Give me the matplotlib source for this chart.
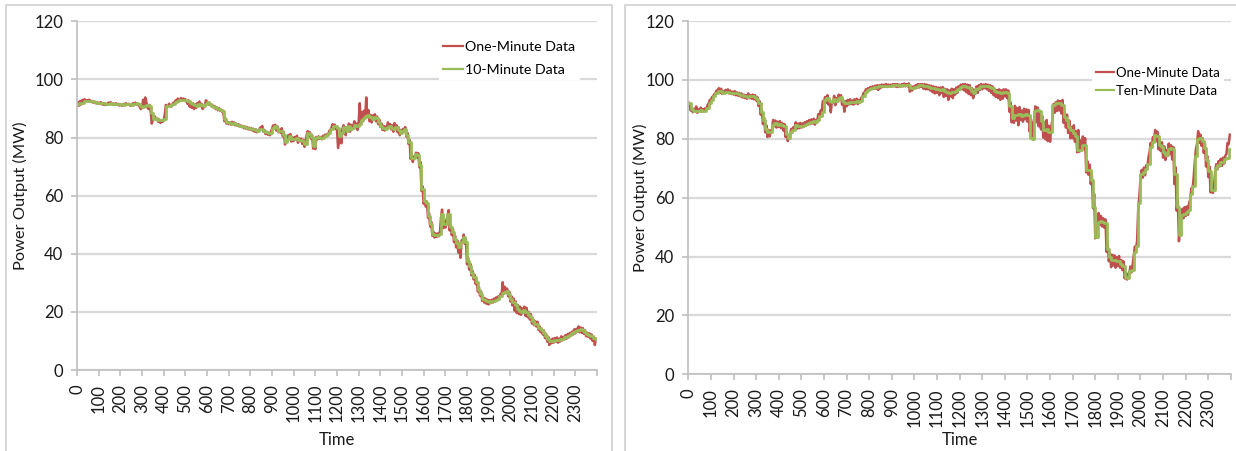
import numpy as np
import matplotlib.pyplot as plt
from matplotlib.patches import Rectangle

plt.rcParams['font.family'] = ['Lato', 'DejaVu Sans']

# ---- left panel: one-minute data (read every 5 min) and 10-minute data ----
left_1min = [
    90.8, 92.2, 91.0, 92.6, 91.4, 93.0, 92.2, 93.2, 92.6, 92.8, 92.4, 93.0, 92.8, 92.2, 92.6, 92.0, 92.4, 91.8, 92.2, 91.6,
    92.0, 91.6, 92.2, 91.4, 91.8, 91.2, 91.8, 91.2, 91.4, 92.0, 91.6, 92.2, 91.4, 91.8, 91.2, 91.6, 91.8, 91.2, 91.6, 91.0,
    91.4, 91.0, 91.0, 91.6, 91.2, 91.8, 91.6, 91.2, 91.6, 91.0, 91.0, 91.6, 91.8, 91.2, 92.0, 91.6, 91.2, 91.4, 90.4, 89.8,
    90.2, 93.0, 91.0, 93.8, 92.2, 90.4, 89.8, 91.2, 89.0, 84.8, 86.0, 87.4, 87.2, 86.2, 86.6, 85.4, 86.2, 85.0, 85.8, 85.4,
    86.0, 87.8, 91.2, 90.4, 90.8, 91.6, 91.2, 90.6, 91.4, 92.0, 91.8, 92.8, 92.4, 93.4, 93.0, 92.6, 93.6, 92.8, 93.4, 93.0,
    93.2, 92.4, 91.6, 92.8, 90.6, 92.2, 90.2, 91.8, 89.8, 91.4, 90.2, 91.8, 91.6, 92.4, 90.8, 91.6, 89.8, 90.6, 91.0, 92.8,
    92.4, 91.8, 91.2, 91.6, 90.8, 91.2, 90.4, 90.8, 89.8, 90.4, 89.4, 90.2, 89.2, 89.6, 88.8, 89.2, 85.6, 86.6, 84.8, 85.4,
    84.6, 85.2, 84.4, 85.4, 84.6, 85.2, 84.2, 84.8, 84.0, 84.6, 83.8, 84.2, 83.6, 84.0, 83.2, 83.8, 83.0, 83.6, 82.8, 83.4,
    82.6, 83.2, 82.4, 83.0, 82.0, 82.8, 81.8, 82.6, 82.4, 83.4, 83.2, 84.0, 82.0, 82.6, 81.2, 82.0, 81.0, 81.6, 80.8, 82.0,
    83.0, 84.2, 83.2, 84.4, 82.4, 83.8, 81.8, 82.6, 81.6, 83.2, 80.4, 81.8, 77.6, 79.2, 78.6, 80.8, 79.8, 81.2, 78.6, 80.0,
    78.8, 80.2, 79.2, 80.6, 78.2, 79.8, 78.8, 79.6, 77.8, 79.2, 76.8, 78.2, 80.8, 82.2, 80.6, 81.8, 79.6, 80.8, 76.2, 77.4,
    76.0, 80.2, 79.4, 80.4, 79.6, 80.2, 79.4, 80.6, 80.2, 81.0, 80.4, 81.2, 81.0, 82.4, 82.2, 83.6, 84.6, 83.2, 84.4, 83.0,
    82.6, 76.4, 79.2, 81.8, 78.0, 83.0, 84.2, 82.6, 80.8, 83.4, 83.0, 84.8, 82.0, 84.4, 82.8, 83.8, 85.6, 83.6, 84.8, 82.6,
    85.4, 91.8, 84.8, 88.8, 85.6, 89.2, 86.8, 93.8, 87.0, 89.4, 85.6, 87.8, 85.2, 87.6, 86.8, 88.0, 85.6, 87.2, 84.6, 86.2,
    83.6, 84.8, 82.6, 84.0, 82.4, 83.8, 83.0, 85.2, 83.4, 84.6, 82.8, 84.2, 82.0, 85.0, 83.2, 84.2, 81.8, 83.4, 80.8, 82.6,
    81.6, 83.0, 82.4, 83.6, 80.4, 81.6, 77.8, 79.2, 72.6, 74.2, 71.6, 73.4, 73.2, 74.8, 73.2, 74.6, 69.8, 71.6, 61.6, 63.2,
    57.2, 58.8, 56.2, 58.0, 52.4, 54.0, 49.4, 51.0, 46.2, 47.6, 45.6, 47.0, 45.8, 47.0, 46.0, 47.4, 52.4, 55.2, 48.8, 51.2,
    49.0, 51.6, 52.8, 55.0, 48.0, 50.2, 46.4, 48.6, 44.0, 46.2, 42.2, 44.6, 40.4, 43.2, 38.6, 44.6, 44.2, 46.6, 43.4, 45.0,
    36.4, 38.6, 34.6, 36.6, 32.6, 34.2, 31.2, 32.8, 29.6, 31.0, 27.0, 28.6, 25.6, 27.0, 23.8, 25.0, 23.2, 24.6, 22.8, 24.2,
    22.6, 24.0, 23.0, 24.2, 23.2, 24.6, 23.6, 25.0, 24.2, 25.4, 24.8, 26.2, 26.0, 30.2, 26.2, 28.6, 26.6, 28.0, 25.4, 27.0,
    23.6, 25.4, 22.2, 24.6, 20.4, 23.6, 19.6, 22.4, 19.2, 21.8, 19.0, 21.2, 19.8, 21.8, 18.6, 21.4, 18.2, 20.0, 17.4, 19.2,
    16.0, 17.6, 15.4, 16.8, 15.0, 16.6, 13.8, 15.0, 13.0, 14.2, 12.2, 13.6, 11.0, 12.4, 9.8, 11.4, 8.6, 10.4, 9.2, 10.8,
    9.4, 11.0, 9.8, 11.2, 9.4, 10.8, 9.8, 11.6, 10.2, 11.4, 10.6, 12.0, 10.8, 12.4, 11.2, 12.8, 11.8, 13.2, 12.2, 14.0,
    12.6, 14.2, 13.2, 15.0, 13.0, 14.6, 12.8, 14.4, 12.4, 13.6, 11.6, 12.8, 11.4, 12.6, 10.8, 12.2, 10.0, 11.4, 8.6, 10.8,
]
left_10min = [
    91.6, 91.8, 92.0, 92.4, 92.5, 92.5, 92.5, 92.4, 92.2, 92.0,
    92.0, 91.9, 91.8, 91.6, 91.6, 91.8, 91.6, 91.5, 91.6, 91.4,
    91.4, 91.2, 91.4, 91.6, 91.4, 91.2, 91.6, 91.8, 91.4, 91.0,
    90.6, 91.0, 91.2, 90.8, 88.6, 86.4, 86.8, 86.2, 86.0, 86.0,
    86.4, 91.0, 91.0, 91.2, 91.6, 92.2, 92.6, 93.0, 93.0, 93.0,
    92.8, 92.4, 92.0, 91.6, 91.2, 91.0, 91.6, 91.2, 91.0, 91.6,
    92.2, 91.6, 91.0, 90.6, 90.2, 89.8, 89.4, 89.2, 86.4, 85.2,
    85.0, 84.8, 85.0, 84.6, 84.4, 84.0, 83.8, 83.6, 83.4, 83.2,
    83.0, 82.8, 82.6, 82.4, 82.8, 83.0, 82.4, 81.8, 81.4, 81.6,
    83.4, 84.0, 83.2, 82.2, 82.4, 81.0, 78.4, 79.6, 80.4, 79.4,
    79.4, 79.8, 79.0, 79.2, 78.8, 77.6, 81.6, 81.2, 80.2, 77.0,
    79.8, 80.2, 80.0, 80.0, 80.6, 80.8, 81.6, 82.8, 84.0, 84.0,
    83.2, 80.6, 81.6, 83.6, 82.4, 83.8, 83.0, 83.4, 84.4, 84.0,
    84.6, 86.0, 86.6, 87.4, 87.8, 87.2, 86.4, 87.2, 86.6, 85.4,
    84.0, 83.4, 83.0, 83.6, 84.0, 83.4, 83.0, 83.6, 82.6, 81.6,
    82.4, 83.0, 81.0, 78.4, 73.0, 72.8, 74.2, 74.0, 70.6, 62.4,
    58.0, 57.6, 53.0, 50.2, 46.8, 46.4, 46.4, 46.8, 53.6, 50.2,
    50.4, 53.6, 49.2, 47.6, 45.2, 43.6, 42.4, 44.0, 45.8, 44.2,
    37.6, 35.8, 33.4, 32.0, 30.2, 27.6, 26.0, 24.4, 24.0, 23.6,
    23.4, 23.6, 23.8, 24.0, 24.6, 25.4, 26.6, 27.0, 27.2, 26.2,
    24.6, 23.4, 22.2, 21.0, 20.4, 20.0, 20.6, 19.8, 19.0, 18.2,
    16.8, 16.0, 15.8, 14.4, 13.6, 12.8, 11.6, 10.6, 10.0, 10.0,
    10.2, 10.4, 10.2, 10.6, 10.8, 11.2, 11.6, 12.0, 12.6, 13.0,
    13.4, 13.8, 14.0, 13.8, 13.0, 12.4, 12.0, 11.6, 11.0, 10.8,
]

# ---- right panel ----
right_1min = [
    92.4, 91.6, 89.6, 90.4, 89.0, 90.2, 89.8, 91.0, 88.8, 90.0, 89.4, 90.6, 89.2, 90.0, 89.6, 90.4, 90.2, 91.4, 92.0, 93.2,
    93.0, 94.2, 94.4, 95.2, 95.4, 96.4, 96.2, 97.2, 95.6, 97.0, 95.2, 96.2, 95.6, 96.6, 95.8, 96.8, 95.4, 96.4, 95.2, 96.0,
    95.0, 96.2, 94.8, 95.8, 94.6, 95.6, 94.4, 95.4, 94.0, 95.0, 93.8, 94.8, 93.6, 95.4, 93.8, 94.8, 93.6, 95.0, 93.4, 94.8,
    93.0, 94.2, 91.2, 92.8, 88.2, 89.8, 85.0, 87.2, 82.2, 84.6, 80.6, 83.0, 80.8, 82.8, 83.0, 86.4, 84.2, 86.2, 83.8, 85.8,
    84.0, 86.0, 83.6, 85.4, 82.8, 85.0, 80.6, 82.4, 79.2, 81.2, 81.4, 83.4, 82.2, 84.0, 83.6, 85.6, 83.4, 85.2, 83.6, 85.4,
    83.8, 85.2, 84.0, 85.6, 84.4, 86.0, 84.8, 86.4, 85.0, 86.6, 85.2, 86.8, 84.8, 86.4, 86.0, 88.4, 87.6, 89.6, 89.0, 92.8,
    92.6, 94.2, 92.2, 94.8, 91.6, 93.2, 89.0, 92.4, 92.2, 94.6, 91.4, 93.8, 92.8, 95.0, 93.6, 94.8, 91.6, 93.2, 89.2, 92.8,
    91.0, 93.2, 91.6, 93.4, 91.8, 93.0, 91.6, 93.4, 92.0, 93.6, 91.8, 93.2, 92.4, 94.0, 94.2, 95.6, 95.6, 96.8, 96.2, 97.2,
    96.6, 97.6, 96.8, 97.8, 97.0, 98.0, 97.0, 98.2, 96.6, 98.2, 97.2, 98.4, 97.6, 98.4, 97.6, 98.6, 97.6, 98.4, 97.8, 98.4,
    97.8, 98.6, 97.8, 98.6, 97.6, 98.6, 97.6, 98.4, 97.8, 98.6, 97.8, 98.8, 97.8, 98.6, 97.8, 98.8, 96.0, 97.8, 96.4, 97.8,
    97.0, 98.2, 97.2, 98.6, 97.4, 98.6, 97.6, 98.6, 97.0, 98.6, 96.8, 98.4, 96.8, 98.2, 96.4, 98.0, 95.8, 97.8, 95.4, 97.6,
    95.6, 97.4, 94.8, 97.4, 95.6, 97.6, 94.2, 97.0, 94.6, 96.8, 93.2, 96.4, 94.4, 97.0, 93.8, 96.8, 95.0, 97.4, 95.6, 97.8,
    96.6, 98.4, 96.8, 98.6, 96.4, 98.6, 95.8, 98.4, 95.2, 98.2, 94.8, 97.2, 93.8, 96.6, 95.4, 97.8, 95.6, 98.2, 96.6, 98.6,
    96.8, 98.4, 97.2, 98.6, 96.8, 98.4, 96.2, 98.2, 95.6, 97.8, 94.8, 96.8, 94.2, 96.6, 93.8, 96.8, 93.2, 96.4, 93.6, 96.8,
    94.4, 96.8, 93.8, 96.4, 89.2, 92.4, 85.6, 88.8, 85.4, 91.2, 86.2, 90.4, 84.6, 90.8, 86.4, 89.6, 85.8, 90.2, 86.6, 90.0,
    85.8, 89.8, 82.4, 86.6, 80.8, 84.6, 86.8, 91.0, 85.6, 90.6, 84.2, 89.4, 83.2, 87.8, 80.4, 85.6, 79.8, 86.4, 79.2, 84.4,
    79.0, 83.8, 86.4, 91.8, 88.8, 92.4, 89.4, 93.0, 89.6, 92.8, 88.6, 93.2, 85.4, 89.0, 83.8, 88.2, 82.0, 86.2, 80.2, 84.0,
    80.2, 84.6, 79.0, 82.6, 75.4, 83.0, 75.6, 79.4, 76.4, 80.8, 76.6, 80.2, 68.6, 72.4, 67.8, 71.2, 64.6, 67.6, 56.4, 61.2,
    46.2, 49.2, 50.4, 54.8, 50.8, 53.8, 50.2, 53.0, 49.8, 52.6, 41.6, 44.4, 38.4, 41.2, 36.4, 40.6, 37.0, 40.4, 36.2, 39.8,
    36.8, 40.2, 36.2, 38.8, 35.4, 38.4, 32.6, 34.4, 32.2, 34.2, 33.8, 36.6, 34.6, 37.0, 40.2, 43.4, 42.4, 45.4, 56.4, 60.6,
    66.4, 69.4, 66.8, 70.2, 67.6, 71.0, 69.8, 73.6, 75.4, 78.6, 77.0, 80.6, 79.6, 83.0, 79.2, 82.4, 76.4, 79.6, 75.8, 78.8,
    73.6, 77.4, 72.8, 76.2, 74.2, 78.4, 74.8, 77.8, 73.0, 77.2, 64.6, 70.4, 55.6, 59.4, 45.2, 49.6, 52.6, 56.2, 53.0, 56.8,
    53.8, 57.0, 54.2, 58.2, 59.4, 63.2, 62.6, 66.8, 72.0, 76.4, 78.2, 82.6, 78.6, 81.4, 77.6, 80.2, 75.2, 78.4, 70.6, 74.2,
    67.0, 70.6, 61.8, 64.2, 61.6, 64.0, 68.4, 71.4, 69.6, 72.4, 70.6, 73.2, 70.8, 73.6, 71.6, 74.2, 74.8, 78.6, 78.2, 81.4,
]
right_10min = [
    92.2, 90.0, 89.4, 89.6, 89.4, 89.8, 89.6, 89.6, 90.4, 92.0,
    93.2, 94.4, 95.6, 96.4, 96.4, 95.6, 95.8, 96.0, 95.6, 95.6,
    95.6, 95.4, 95.2, 95.0, 94.6, 94.4, 94.2, 94.4, 94.4, 94.2,
    93.6, 92.0, 89.0, 86.4, 83.2, 82.4, 82.2, 84.6, 85.2, 84.6,
    85.0, 84.8, 84.2, 81.6, 80.4, 82.2, 83.0, 84.6, 84.2, 84.4,
    84.4, 84.6, 85.0, 85.4, 85.6, 86.0, 85.6, 86.4, 87.6, 89.2,
    93.2, 93.8, 93.0, 92.6, 93.4, 93.0, 93.8, 94.2, 93.0, 92.0,
    92.2, 92.6, 92.6, 92.4, 92.8, 92.6, 93.0, 94.6, 96.0, 96.6,
    97.0, 97.4, 97.6, 97.6, 97.8, 97.8, 98.0, 98.0, 98.0, 98.0,
    98.2, 98.2, 98.2, 98.0, 98.2, 98.2, 98.2, 98.4, 97.4, 97.2,
    97.6, 97.8, 98.2, 98.2, 98.0, 97.8, 97.6, 97.4, 97.2, 97.0,
    96.8, 96.6, 96.8, 96.2, 96.0, 95.6, 96.0, 95.8, 96.4, 96.8,
    97.6, 97.8, 97.8, 97.6, 97.4, 96.2, 95.4, 96.8, 97.2, 97.8,
    97.8, 98.0, 97.8, 97.6, 97.2, 96.2, 96.0, 95.8, 95.6, 95.8,
    95.8, 95.4, 91.0, 87.0, 88.0, 88.2, 88.4, 87.8, 88.0, 88.4,
    88.2, 80.2, 80.0, 89.6, 89.8, 89.4, 86.2, 83.0, 83.2, 82.4,
    82.2, 91.4, 92.0, 92.0, 92.0, 91.6, 87.4, 86.4, 84.0, 83.0,
    82.0, 80.8, 76.2, 76.2, 77.8, 78.0, 69.4, 69.4, 66.0, 57.0,
    46.8, 51.8, 52.0, 51.6, 51.4, 42.4, 40.0, 38.8, 38.8, 38.6,
    38.6, 37.6, 36.8, 33.0, 32.8, 35.2, 35.4, 41.6, 43.6, 58.2,
    68.0, 68.6, 69.6, 71.6, 77.2, 78.8, 81.2, 81.0, 77.8, 77.2,
    75.6, 74.6, 76.4, 76.8, 76.6, 68.2, 57.0, 47.4, 54.0, 54.4,
    55.2, 55.8, 61.4, 64.0, 74.0, 80.0, 80.2, 79.4, 77.0, 72.8,
    69.0, 62.6, 62.6, 70.0, 71.0, 72.0, 72.2, 73.0, 73.4, 76.4,
]

t_1min = np.arange(0, 2400, 5)
t_10min = np.arange(0, 2400, 10)
xticks = np.arange(0, 2500, 100)
xtick_labels = [str(t) for t in xticks[:-1]] + ['']

red = '#C0504D'
green = '#9BBB59'
grid_col = '#D9D9D9'
axis_col = '#BFBFBF'


def draw_panel(ax, one_min, ten_min, ten_label, leg_anchor, leg_size, leg_spacing, ylab_x, xlab_y):
    ax.plot(t_1min, one_min, color=red, lw=1.8, label='One-Minute Data')
    ax.step(np.append(t_10min, 2400), np.append(ten_min, ten_min[-1]), where='post',
            color=green, lw=2.0, label=ten_label)
    ax.set_xlim(0, 2400)
    ax.set_ylim(0, 120)
    ax.set_yticks(np.arange(0, 121, 20))
    ax.set_xticks(xticks)
    ax.set_xticklabels(xtick_labels, rotation=90)
    ax.grid(axis='y', color=grid_col, lw=1.6)
    ax.set_axisbelow(True)
    for s in ['top', 'right']:
        ax.spines[s].set_visible(False)
    for s in ['left', 'bottom']:
        ax.spines[s].set_color(axis_col)
        ax.spines[s].set_linewidth(1.2)
    ax.tick_params(colors=axis_col, length=4, width=1.2, labelcolor='#1a1a1a', labelsize=12, pad=6)
    ax.set_ylabel('Power Output (MW)', fontsize=11.8, color='#1a1a1a')
    ax.set_xlabel('Time', fontsize=12, color='#1a1a1a')
    ax.yaxis.set_label_coords(ylab_x, 0.5)
    ax.xaxis.set_label_coords(0.5, xlab_y)
    leg = ax.legend(loc='upper left', bbox_to_anchor=leg_anchor, fontsize=leg_size, frameon=True,
                    facecolor='white', edgecolor='none', framealpha=1, fancybox=False,
                    handlelength=1.4, handletextpad=0.15, labelspacing=leg_spacing, borderpad=0.3)
    for line in leg.get_lines():
        line.set_linewidth(1.6)


fig = plt.figure(figsize=(12.36, 4.51), dpi=100)

# chart-area borders
fig.patches.append(Rectangle((0.005, -0.02), 0.490, 1.008, transform=fig.transFigure,
                             fill=False, edgecolor='#D0D0D0', lw=1.2))
fig.patches.append(Rectangle((0.506, -0.02), 0.5, 1.008, transform=fig.transFigure,
                             fill=False, edgecolor='#D0D0D0', lw=1.2))

ax1 = fig.add_axes([0.0623, 0.1796, 0.4207, 0.7732])
draw_panel(ax1, left_1min, left_10min, '10-Minute Data', (0.683, 0.975), 10.2, 0.75, -0.094, -0.178)

ax2 = fig.add_axes([0.5569, 0.1700, 0.4390, 0.7834])
draw_panel(ax2, right_1min, right_10min, 'Ten-Minute Data', (0.731, 0.90), 9.5, 0.45, -0.074, -0.163)

plt.savefig('out.png', dpi=100)
